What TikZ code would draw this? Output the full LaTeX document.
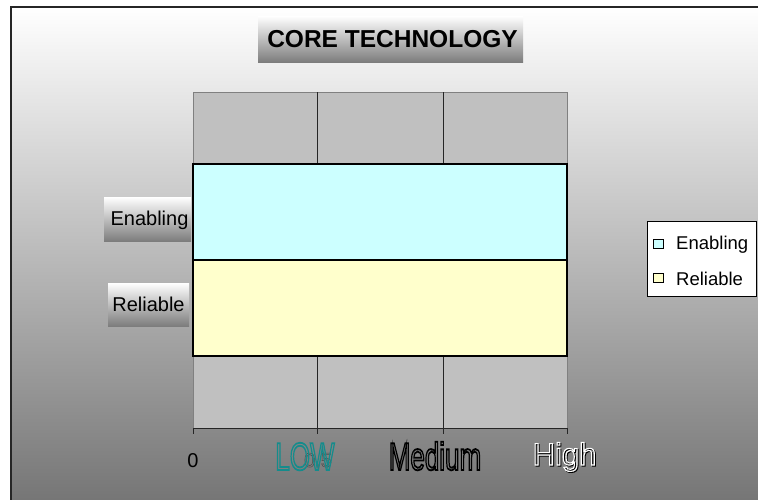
\documentclass[tikz,border=0pt]{standalone}
\usepackage{fontspec}
\setmainfont{Liberation Sans}
\definecolor{bgbot}{RGB}{115,115,115}
\definecolor{plotgray}{RGB}{192,192,192}
\definecolor{cyanbar}{RGB}{204,255,255}
\definecolor{yellowbar}{RGB}{255,255,204}
\definecolor{lowteal}{RGB}{20,140,140}
\definecolor{boxbot}{RGB}{125,125,125}
\newcommand\outlinetext[2]{\special{pdf:literal direct 1 Tr #1 w}#2\special{pdf:literal direct 0 Tr}}
\tikzset{
  gradbox/.style={inner sep=0pt, top color=white, bottom color=boxbot, draw=none},
  bar/.style={draw=black, line width=1.8pt},
  lbl/.style={font=\fontsize{20}{24}\selectfont, anchor=base, inner sep=0pt},
  leglbl/.style={font=\fontsize{18.5}{22}\selectfont, anchor=base west, inner sep=0pt},
  axbig/.style={font=\fontsize{26}{28}\selectfont, anchor=base, inner sep=0pt},
  axhigh/.style={font=\fontsize{31}{33}\selectfont, anchor=base, inner sep=0pt},
  legsq/.style={draw=black, line width=1pt, minimum size=9.5pt, inner sep=0pt},
}
\begin{document}
\begin{tikzpicture}[x=1pt,y=-1pt]
\useasboundingbox (0,0) rectangle (758,499);
\fill[white] (0,0) rectangle (758,499);
% chart area
\shade[top color=white, bottom color=bgbot] (11,7) rectangle (770,510);
\draw[line width=2pt, black!85] (11,510) -- (11,7) -- (770,7);

% plot area
\coordinate (pa) at (193,92);
\coordinate (pb) at (567,428);
\draw[fill=plotgray, draw=gray, line width=1pt] (pa) rectangle (pb);
\coordinate (g1t) at (317,92); \coordinate (g1b) at (317,428);
\coordinate (g2t) at (443,92); \coordinate (g2b) at (443,428);
\draw[black!85, line width=0.8pt] (g1t) -- (g1b);
\draw[black!85, line width=0.8pt] (g2t) -- (g2b);

% bars
\coordinate (e1) at (193,164); \coordinate (e2) at (567,260);
\coordinate (r1) at (193,260); \coordinate (r2) at (567,356);
\draw[bar, fill=cyanbar] (e1) rectangle (e2);
\draw[bar, fill=yellowbar] (r1) rectangle (r2);

% axis
\coordinate (a0) at (193,428); \coordinate (a3) at (567,428);
\draw[black!85, line width=0.8pt] (a0) -- (a3);
\foreach \x in {193,317,443,567}{
  \draw[black!85, line width=0.8pt] (\x,428) -- (\x,434);
}

% title
\node[gradbox, minimum width=265pt, minimum height=46pt] (titlebox) at (390.5,39) {};
\node[font=\fontsize{24.5}{28}\bfseries, anchor=base, inner sep=0pt] (title) at (392.5,47) {CORE TECHNOLOGY};

% category labels
\node[gradbox, minimum width=87pt, minimum height=44pt] (enbox) at (147.5,219) {};
\node[lbl] (en) at (149.5,225) {Enabling};
\node[gradbox, minimum width=81pt, minimum height=43pt] (relbox) at (148.5,304.5) {};
\node[lbl] (rel) at (148.5,311) {Reliable};

% x axis labels
\node[lbl] (zero) at (193,467) {0};
\node[lbl, text=black!70] (half) at (318,467) {\outlinetext{0.5}{0.5}};
\node[axbig, text=lowteal] (low) at (305,470) {\scalebox{1}[1.5]{\outlinetext{1.2}{LOW}}};
\node[axbig, text=black] (med) at (435,470) {\scalebox{1}[1.5]{\outlinetext{1.2}{Medium}}};
\node[axhigh, text=black] (highshadow) at (565.5,466) {\outlinetext{1.1}{High}};
\node[axhigh, text=white] (high) at (564.5,465) {\outlinetext{1.1}{High}};

% legend
\node[draw=black, fill=white, line width=0.8pt, minimum width=109pt, minimum height=75pt, inner sep=0pt] (legend) at (701.5,258.5) {};
\node[legsq, fill=cyanbar] (sq1) at (658.5,244) {};
\node[leglbl] (l1) at (676,249) {Enabling};
\node[legsq, fill=yellowbar] (sq2) at (658.5,278) {};
\node[leglbl] (l2) at (676,285) {Reliable};
\end{tikzpicture}
\end{document}
